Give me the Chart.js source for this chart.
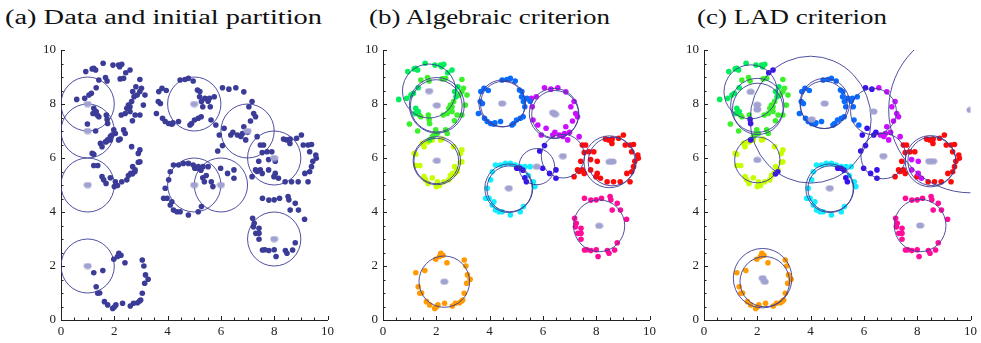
<!DOCTYPE html>
<html>
<head>
<meta charset="utf-8">
<script src="https://cdn.jsdelivr.net/npm/chart.js@4.4.0/dist/chart.umd.min.js"></script>
<style>
  body { margin: 0; background: #fff; width: 981px; height: 343px; overflow: hidden; position: relative; }
  .box { position: absolute; top: 0; height: 343px; }
  .ttl { position: absolute; top: 4px; font-family: "Liberation Serif", "Times New Roman", "DejaVu Serif", serif;
         font-size: 20px; line-height: 26px; white-space: nowrap; color: #111; }
</style>
</head>
<body>
<div class="ttl" id="tA" style="left:5px">(a) Data and initial partition</div>
<div class="ttl" id="tB" style="left:369px">(b) Algebraic criterion</div>
<div class="ttl" id="tC" style="left:697px">(c) LAD criterion</div>
<div class="box" style="left:0;width:338px"><canvas id="chartA"></canvas></div>
<div class="box" style="left:338px;width:322px"><canvas id="chartB"></canvas></div>
<div class="box" style="left:660px;width:321px"><canvas id="chartC"></canvas></div>
<script>
// tick labels on both axes
const tickValues = [0, 2, 4, 6, 8, 10];

// data points, grouped by the cluster found with the algebraic criterion;
// a third entry gives the cluster the LAD criterion puts the point in
const green1 = [[1.23,9.32],[1.30,9.26],[1.17,9.30],[0.93,9.20],[1.58,9.51],[1.95,9.44],[2.16,9.44],[2.20,9.38],
  [2.28,9.47],[2.59,9.26,'indigo'],[2.43,9.16,'indigo'],[0.59,8.17],[0.89,8.21],[1.14,8.40],[1.05,8.33],[1.32,8.60],
  [1.23,7.84],[1.32,7.72],[1.20,7.65],[2.74,8.27],[2.69,8.46],[2.81,8.64]];
const green2 = [[1.42,8.89],[1.67,8.98],[1.73,8.85],[2.22,8.93],[2.35,8.95],[2.96,8.91],[3.02,8.58],[2.96,8.46],
  [3.15,8.33],[2.86,8.33],[2.65,8.09],[2.53,7.96],[2.59,7.90],[2.47,7.84],[3.09,7.96],[2.96,7.59],[2.78,7.59],
  [2.59,7.72],[2.41,7.65],[2.26,7.59],[1.42,7.53],[1.36,7.59],[1.70,7.59],[1.73,7.43,'indigo'],[1.75,7.28,'indigo'],
  [0.99,7.26],[1.30,7.00],[1.98,7.04],[2.04,6.91],[1.91,6.85],[1.85,6.79],[2.35,7.04],[2.41,6.91],[1.75,6.67,'indigo'],[2.68,7.38]];
const yellow = [[1.67,6.60],[1.85,6.67],[2.22,6.70],[2.16,6.67],[1.48,6.54],[1.54,6.42],[1.70,6.60],[2.65,6.42],
  [2.96,6.30],[2.90,6.17],[1.17,6.17],[1.23,6.14],[2.96,5.86],[2.90,5.84],[2.69,5.68],[2.78,5.56],[2.62,5.43],
  [2.53,5.35],[2.47,5.19],[2.28,5.12],[1.23,5.72],[1.38,5.72],[1.54,5.31],[1.60,5.19],[2.04,5.12],[1.85,5.27],
  [1.69,5.06],[2.00,4.94],[2.12,4.98],[2.77,5.49,'indigo'],[2.68,5.41,'indigo']];
const orange = [[1.23,1.75],[1.57,1.83],[1.98,2.25],[2.12,2.35],[2.17,2.47],[2.25,2.40],[2.40,2.12],[3.05,2.22],
  [3.11,2.00],[3.17,1.67],[3.27,1.51],[3.14,1.36],[3.05,0.99],[2.99,0.74],[2.87,0.64],[2.72,0.62],[2.60,0.52],
  [2.31,0.62],[2.06,0.56],[1.94,0.43],[2.00,0.48],[1.75,0.56],[1.63,0.68],[1.38,0.99],[1.32,1.23],[1.45,1.00],[2.95,0.70]];
const blue = [[3.67,8.46],[3.79,8.58],[3.65,8.09],[3.73,8.02],[3.58,7.65],[3.81,7.47],[3.91,7.35],[4.04,7.28],
  [4.16,7.25],[4.41,7.35],[4.47,8.89],[4.65,8.91],[4.78,8.95],[4.96,8.85],[5.12,8.52],[5.21,8.46],[5.27,8.09],
  [4.84,7.22],[4.90,7.28],[5.15,7.47],[5.01,7.41],[5.26,7.53],[5.32,7.90],[5.20,8.27],[3.95,8.50],[4.20,7.30],
  [5.40,8.21],[5.52,8.10]];
const magenta = [[6.06,8.60,'indigo'],[5.75,8.27,'blue'],[5.57,8.21,'blue'],[5.60,7.90,'blue'],[5.63,7.41,'blue'],
  [5.81,7.22,'blue'],[5.94,6.85,'indigo'],[6.37,6.85,'indigo'],[6.62,6.85],[6.81,6.91],[6.93,6.67],[7.36,6.79],
  [6.56,8.60],[6.86,8.45],[7.17,8.09],[7.05,7.90],[7.23,7.65],[7.30,7.53],[7.11,7.37],[6.86,7.16],[6.12,7.10,'indigo'],
  [6.45,6.95,'indigo'],[6.75,6.80],[7.00,6.95],[6.30,8.55,'indigo']];
const indigo = [[6.06,6.46],[5.88,6.26],[5.14,5.62],[5.02,5.62],[5.32,5.27],[5.38,5.12],[6.25,5.43],[6.49,5.56],
  [6.49,5.25],[5.99,5.62],[5.25,5.55]];
const cyan = [[3.85,4.51],[3.98,4.51],[3.91,4.88],[4.04,5.19],[4.10,5.49],[4.22,5.74],[4.41,5.74],[4.59,5.80],
  [4.78,5.80],[4.96,5.74],[5.15,5.68],[5.33,5.68],[5.52,5.68],[5.70,4.94],[5.64,5.12],[5.27,4.20],[5.15,4.01],
  [4.78,3.89],[4.47,4.01],[4.22,4.07],[4.10,4.26],[4.16,4.38],[4.35,4.01],[5.45,5.35]];
const red = [[7.48,6.48],[7.60,6.48],[7.91,6.23],[7.73,6.23],[7.55,6.20],[7.42,5.88],[7.48,5.56],[7.30,5.56],
  [7.36,5.50],[7.17,5.31],[7.55,5.43],[7.79,5.56,'magenta'],[8.04,5.43,'magenta'],[8.16,5.25,'magenta'],[8.41,5.12],
  [8.65,5.12],[8.90,5.12],[9.27,5.12],[9.15,5.43],[9.33,5.49],[9.40,5.68],[9.58,5.99],[9.56,6.11],[9.45,5.88],
  [9.33,6.23],[9.27,6.48],[9.40,6.50],[9.09,6.48],[9.02,6.85],[8.84,6.73],[8.59,6.54],[8.47,6.67],[8.35,6.70],
  [8.04,5.88,'magenta'],[7.79,5.94,'magenta'],[7.99,5.31],[8.60,6.70]];
const pink = [[7.56,4.51],[7.80,4.44],[8.00,4.45],[8.20,4.51],[8.52,4.57],[8.55,4.45],[8.79,4.32],[8.91,4.07],
  [9.14,3.73],[8.60,4.07],[7.19,3.77],[7.25,3.58],[7.22,3.45],[7.31,3.21],[7.43,3.21],[7.43,2.99],[7.56,2.59],
  [7.80,2.57],[8.00,2.60],[8.07,2.35],[8.42,2.57],[8.48,2.47],[8.69,2.59],[8.79,2.86],[7.43,3.40],[7.65,2.60]];

const clusters = { green1, green2, yellow, orange, blue, magenta, indigo, cyan, red, pink };
const clusterColors = {
  green1: '#00ee5a', green2: '#3cf02a', yellow: '#c8ff00', orange: '#ff9a00', blue: '#0a6cff',
  magenta: '#cc10ff', indigo: '#3a10f0', cyan: '#10eeff', red: '#ff0a0a', pink: '#ff0c98'
};

// circles: [centre x, centre y, radius x, radius y]
const initCircles = [[1,8,1,1],[1,7,1,1],[1,5,1,1],[1,2,1,1],[5,8,1,1],[5,5,1,1],[6,5,1,1],[7,7,1,1],[8,6,1,1],[8,3,1,1]];
const initCenters = [[1,8],[1,7],[1,5],[1,2],[5,8],[5,5],[6,5],[7,7],[8,6],[8,3]];

const algCircles = [[1.73,8.48,1.0,1.0],[2.02,7.95,1.03,1.03],[2.0,7.93,0.97,0.97],[2.02,5.9,0.89,0.89],
  [2.0,5.89,0.84,0.84],[2.3,1.42,0.95,0.95],[4.47,8.02,0.87,0.87],[4.5,8.0,0.84,0.84],[6.42,7.65,0.93,0.93],
  [6.46,7.62,0.88,0.88],[4.72,4.88,0.9,0.9],[4.75,4.86,0.85,0.85],[5.77,5.68,0.67,0.67],[6.75,6.07,0.81,0.81],
  [8.5,5.86,0.96,0.96],[8.6,5.87,0.9,0.9],[8.11,3.49,0.96,0.96]];
const algCenters = [[1.73,8.48],[2.02,7.95],[2.02,5.9],[2.3,1.42],[4.47,8.02],[6.38,7.68],[6.46,7.62],[4.72,4.88],
  [5.77,5.68],[6.75,6.07],[8.5,5.86],[8.62,5.87],[8.11,3.49]];

const ladCircles = [[1.75,8.45,1.0,1.0],[2.0,7.95,1.0,1.0],[2.02,7.82,0.95,0.95],[2.0,5.93,0.85,0.85],
  [2.2,1.55,1.1,1.1],[2.28,1.42,0.93,0.93],[4.53,8.02,0.93,0.93],[4.5,7.97,0.88,0.88],[4.0,7.42,2.27,2.35],
  [6.36,7.72,0.86,0.86],[6.73,6.07,0.84,0.84],[4.72,4.88,0.9,0.9],[4.75,4.86,0.85,0.85],[8.5,5.88,0.95,0.95],
  [8.55,5.88,0.9,0.9],[8.11,3.5,0.97,0.97],[10.0,7.78,3.07,3.07]];
const ladCenters = [[1.75,8.45],[2.0,7.97],[2.0,7.8],[2.0,5.93],[2.2,1.55],[2.28,1.42],[4.53,8.02],[4.04,7.43],
  [6.36,7.72],[6.73,6.07],[4.72,4.88],[8.45,5.88],[8.6,5.88],[8.11,3.5],[10.0,7.78]];

const navy = '#3b3b98';
const ringColor = '#3c3c96';
const centerColor = '#a2a2d2';
const serif = '"Liberation Serif", "Times New Roman", "DejaVu Serif", serif';

// fit the panel titles to the width they have in the figure
[['tA', 317], ['tB', 241], ['tC', 190]].forEach(([id, w]) => {
  const el = document.getElementById(id);
  const now = el.getBoundingClientRect().width;
  el.style.transformOrigin = '0 0';
  el.style.transform = 'scaleX(' + (w / now).toFixed(3) + ')';
});

// small elliptical marker for the fitted centres
const centerDot = document.createElement('canvas');
centerDot.width = 9; centerDot.height = 7;
(function () {
  const c = centerDot.getContext('2d');
  c.fillStyle = centerColor;
  c.beginPath();
  c.ellipse(4.5, 3.5, 4, 3.1, 0, 0, Math.PI * 2);
  c.fill();
})();

const toXY = p => ({ x: p[0], y: p[1] });

function pointSets(mode) {
  const groups = {};
  Object.keys(clusters).forEach(k => {
    clusters[k].forEach(p => {
      const key = mode === 'a' ? 'all' : (mode === 'c' && p[2] ? p[2] : k);
      (groups[key] = groups[key] || []).push(toXY(p));
    });
  });
  return Object.keys(groups).map(key => ({
    data: groups[key],
    backgroundColor: key === 'all' ? navy : clusterColors[key],
    pointRadius: 2.8,
    pointBorderWidth: 0,
    pointHoverRadius: 2.8,
    order: 2
  }));
}

const ringsPlugin = {
  id: 'rings',
  beforeDatasetDraw(chart, args) {
    if (!chart.data.datasets[args.index].isCenters) return;
    const list = chart.options.plugins.rings.list;
    const { ctx, chartArea: a, scales: { x, y } } = chart;
    ctx.save();
    ctx.beginPath();
    ctx.rect(a.left, a.top, a.right - a.left, a.bottom - a.top);
    ctx.clip();
    ctx.strokeStyle = ringColor;
    ctx.lineWidth = 0.9;
    list.forEach(c => {
      const cx = x.getPixelForValue(c[0]);
      const cy = y.getPixelForValue(c[1]);
      const rx = Math.abs(x.getPixelForValue(c[0] + c[2]) - cx);
      const ry = Math.abs(y.getPixelForValue(c[1] + c[3]) - cy);
      ctx.beginPath();
      ctx.ellipse(cx, cy, rx, ry, 0, 0, Math.PI * 2);
      ctx.stroke();
    });
    ctx.restore();
  }
};

// inward tick marks every 0.5, longer at labelled values
const tickMarks = {
  id: 'tickMarks',
  afterDraw(chart) {
    const { ctx, chartArea: a, scales: { x, y } } = chart;
    ctx.save();
    ctx.strokeStyle = '#222';
    ctx.lineWidth = 1;
    ctx.beginPath();
    for (let v = 0; v <= 10; v += 0.5) {
      const len = v % 2 === 0 ? 4 : 2.5;
      const px = Math.round(x.getPixelForValue(v)) + 0.5;
      ctx.moveTo(px, a.bottom);
      ctx.lineTo(px, a.bottom - len);
      const py = Math.round(y.getPixelForValue(v)) + 0.5;
      ctx.moveTo(a.left, py);
      ctx.lineTo(a.left + len, py);
    }
    ctx.stroke();
    ctx.restore();
  }
};

function axis(pos, fit) {
  return {
    type: 'linear',
    position: pos,
    min: 0,
    max: 10,
    afterBuildTicks: s => { s.ticks = tickValues.map(v => ({ value: v })); },
    afterFit: s => { if (pos === 'left') s.width = fit; else s.height = fit; },
    grid: { display: false, drawTicks: false },
    border: { display: true, color: '#222', width: 1 },
    ticks: { color: '#222', padding: pos === 'left' ? 5 : 4, font: { family: serif, size: 13 }, maxRotation: 0 }
  };
}

function makeChart(id, mode, rings, centers, yWidth) {
  const sets = pointSets(mode);
  sets.push({
    isCenters: true,
    data: centers.map(toXY),
    pointStyle: centerDot,
    pointRadius: 4,
    pointHoverRadius: 4,
    order: 0
  });
  new Chart(document.getElementById(id), {
    type: 'scatter',
    data: { datasets: sets },
    options: {
      responsive: true,
      maintainAspectRatio: false,
      animation: false,
      events: [],
      layout: { padding: { top: 50, right: 7, left: 0, bottom: 0 } },
      plugins: { legend: { display: false }, tooltip: { enabled: false }, rings: { list: rings } },
      scales: { x: axis('bottom', 23), y: axis('left', yWidth) }
    },
    plugins: [ringsPlugin, tickMarks]
  });
}

makeChart('chartA', 'a', initCircles, initCenters, 61);
makeChart('chartB', 'b', algCircles, algCenters, 45);
makeChart('chartC', 'c', ladCircles, ladCenters, 44);
</script>
</body>
</html>
